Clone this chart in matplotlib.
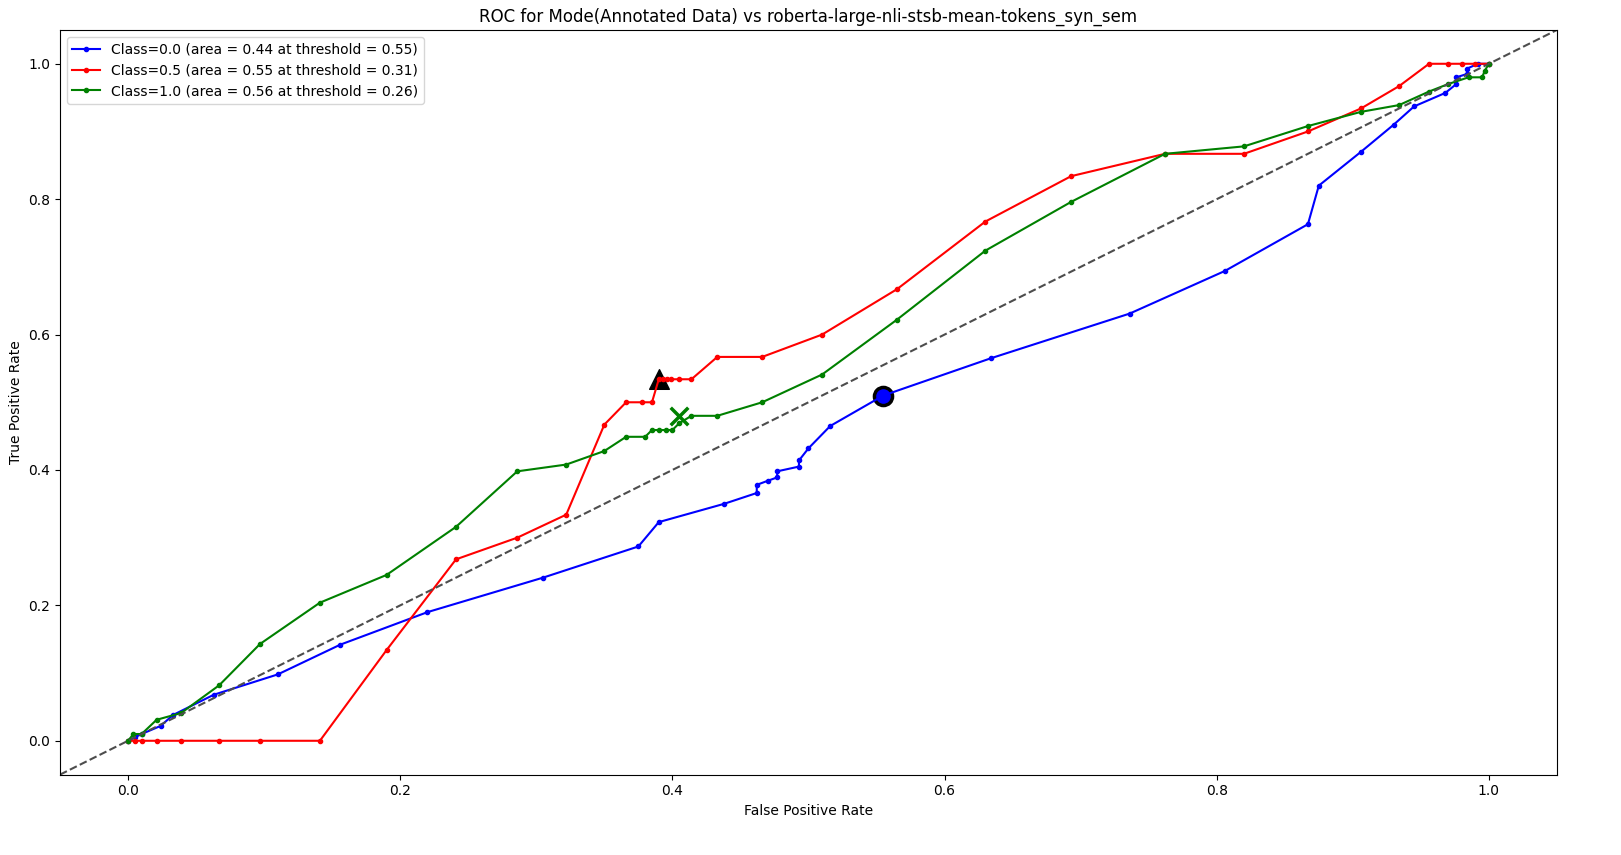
import matplotlib
matplotlib.use("Agg")
import matplotlib.pyplot as plt

blue_fpr = [0, 0.005, 0.01, 0.024, 0.033, 0.063, 0.11, 0.156, 0.22, 0.305, 0.375, 0.39, 0.438, 0.462, 0.462,
            0.47, 0.477, 0.477, 0.493, 0.493, 0.5, 0.516, 0.555, 0.634, 0.736, 0.806, 0.867, 0.875, 0.906,
            0.93, 0.945, 0.968, 0.976, 0.976, 0.984, 0.984, 0.992, 1.0]
blue_tpr = [0, 0.005, 0.01, 0.022, 0.038, 0.068, 0.098, 0.142, 0.19, 0.241, 0.287, 0.323, 0.35, 0.366, 0.378,
            0.384, 0.389, 0.398, 0.405, 0.414, 0.432, 0.465, 0.51, 0.565, 0.631, 0.694, 0.763, 0.82, 0.87,
            0.91, 0.937, 0.957, 0.97, 0.98, 0.985, 0.993, 1.0, 1.0]
red_fpr = [0, 0.005, 0.01, 0.021, 0.039, 0.067, 0.097, 0.141, 0.19, 0.241, 0.286, 0.322, 0.35, 0.366, 0.378,
           0.385, 0.39, 0.393, 0.396, 0.399, 0.405, 0.414, 0.433, 0.466, 0.51, 0.565, 0.63, 0.693, 0.762,
           0.82, 0.867, 0.906, 0.934, 0.956, 0.97, 0.98, 0.99, 1.0]
red_tpr = [0, 0, 0, 0, 0, 0, 0, 0, 0.134, 0.268, 0.3, 0.334, 0.467, 0.5, 0.5,
           0.5, 0.534, 0.534, 0.534, 0.534, 0.534, 0.534, 0.567, 0.567, 0.6, 0.667, 0.767, 0.834, 0.867,
           0.867, 0.9, 0.934, 0.967, 1.0, 1.0, 1.0, 1.0, 1.0]
green_fpr = [0, 0.004, 0.01, 0.021, 0.039, 0.067, 0.097, 0.141, 0.19, 0.241, 0.286, 0.322, 0.35, 0.366, 0.38,
             0.385, 0.39, 0.395, 0.4, 0.405, 0.414, 0.433, 0.466, 0.51, 0.565, 0.63, 0.693, 0.762, 0.82,
             0.867, 0.906, 0.934, 0.956, 0.97, 0.985, 0.995, 0.997, 1.0]
green_tpr = [0, 0.01, 0.01, 0.031, 0.041, 0.082, 0.143, 0.204, 0.245, 0.316, 0.398, 0.408, 0.428, 0.449, 0.449,
             0.459, 0.459, 0.459, 0.459, 0.469, 0.48, 0.48, 0.5, 0.541, 0.622, 0.724, 0.796, 0.867, 0.878,
             0.908, 0.929, 0.939, 0.959, 0.97, 0.98, 0.98, 0.99, 1.0]

series = [
    ("Class=0.0 (area = 0.44 at threshold = 0.55)", "blue", blue_fpr, blue_tpr, (0.555, 0.51), "o"),
    ("Class=0.5 (area = 0.55 at threshold = 0.31)", "red", red_fpr, red_tpr, (0.39, 0.534), "^"),
    ("Class=1.0 (area = 0.56 at threshold = 0.26)", "green", green_fpr, green_tpr, (0.405, 0.48), "x"),
]

fig, ax = plt.subplots(figsize=(16.21, 8.55), dpi=100)
for label, color, fpr, tpr, best, mk in series:
    if mk == "o":
        ax.scatter(*best, marker="o", s=170, color=color, edgecolors="black", linewidths=2.5, zorder=1)
    elif mk == "^":
        ax.scatter(*best, marker="^", s=200, color="black", zorder=1)
    else:
        ax.scatter(*best, marker="x", s=160, color=color, linewidths=2.5, zorder=3)
for label, color, fpr, tpr, best, mk in series:
    ax.plot(fpr, tpr, marker=".", color=color, label=label, zorder=2)

ax.plot([-0.05, 1.05], [-0.05, 1.05], "--", color="0.3")
ax.set_xlim(-0.05, 1.05)
ax.set_ylim(-0.05, 1.05)
ax.set_xlabel("False Positive Rate")
ax.set_ylabel("True Positive Rate")
ax.set_title("ROC for Mode(Annotated Data) vs roberta-large-nli-stsb-mean-tokens_syn_sem")
ax.legend(loc="upper left")
fig.subplots_adjust(left=0.037, right=0.9605, bottom=0.094, top=0.965)
fig.savefig("out.png")
